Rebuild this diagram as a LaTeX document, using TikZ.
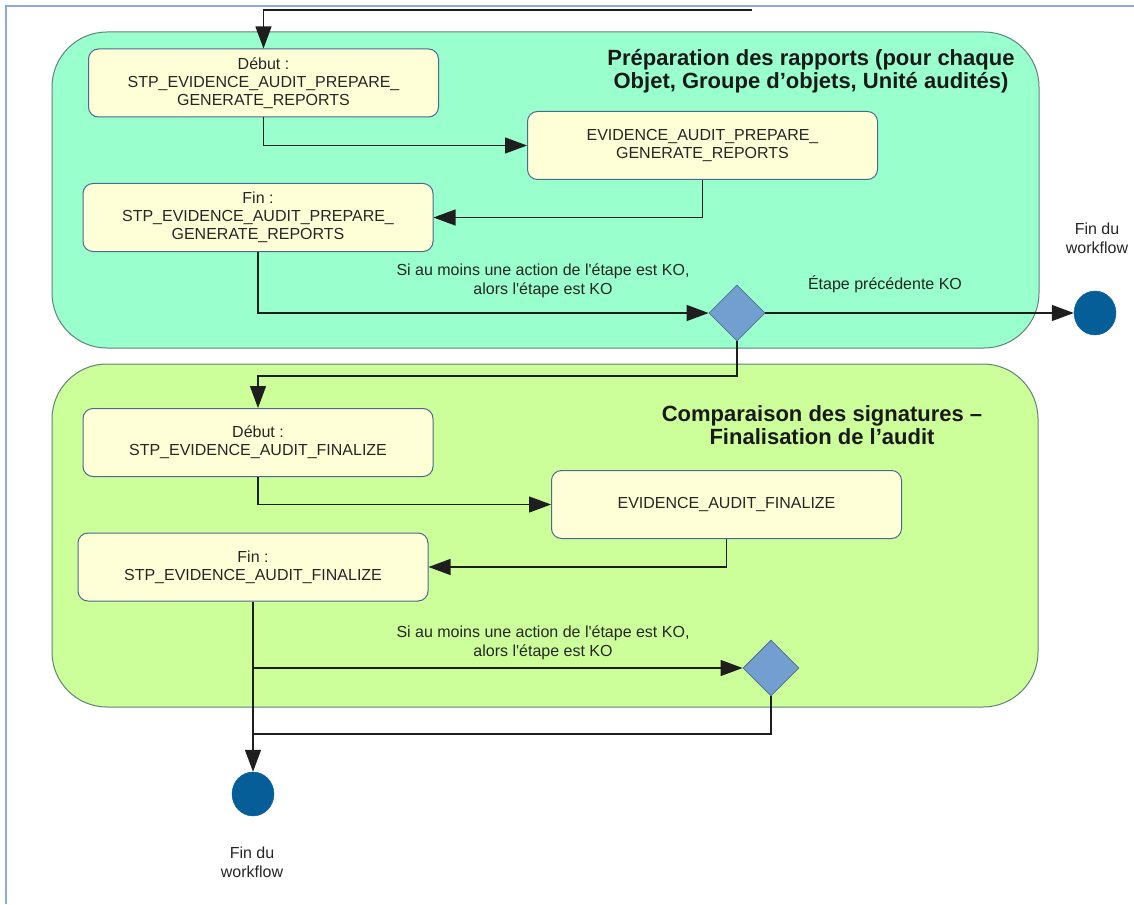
\documentclass[tikz,border=0pt]{standalone}
\usepackage{fontspec}
\setmainfont{Liberation Sans}
\usepackage{tikz}
\usetikzlibrary{arrows.meta,shapes.geometric,positioning}
\definecolor{menthe}{RGB}{153,255,204}
\definecolor{citron}{RGB}{204,255,153}
\definecolor{creme}{RGB}{255,255,215}
\definecolor{losange}{RGB}{114,159,207}
\definecolor{finbleu}{RGB}{6,94,152}
\definecolor{cadre}{RGB}{140,170,220}
\definecolor{bord}{RGB}{95,130,120}
\definecolor{trait}{RGB}{30,30,30}

\begin{document}
\begin{tikzpicture}[x=1pt,y=-1pt,>={Triangle[length=22pt,width=16pt]},
			zone/.style={rectangle,draw=bord,line width=1pt,rounded corners=55pt},
			etape/.style={rectangle,draw=bord!80!blue,fill=creme,line width=1pt,rounded corners=10pt,
				minimum width=350pt,minimum height=68pt,align=center,text=black!85,
				font=\fontsize{16}{18}\selectfont},
			titre/.style={align=center,text=black!90,font=\bfseries\fontsize{22}{23}\selectfont},
			lbl/.style={align=center,text=black!85,font=\fontsize{16}{19}\selectfont},
			choix/.style={diamond,draw=losange!70!black,fill=losange,line width=0.8pt,
				minimum width=56pt,minimum height=56pt,inner sep=0pt},
			fin/.style={ellipse,draw=finbleu,fill=finbleu,minimum width=42pt,minimum height=44pt,inner sep=0pt},
			lien/.style={draw=trait,line width=1.3pt}]
			
			\useasboundingbox (0,0) rectangle (1134,904);
			\draw[cadre,line width=1.2pt] (1134,6) -- (6,6) -- (6,904);
			
			\node[zone,fill=menthe,minimum width=987pt,minimum height=316pt] (Z1) at (545.5,190) {};
			\node[zone,fill=citron,minimum width=986pt,minimum height=343pt] (Z2) at (545,535.5) {};
			
			\node[titre] (T1) at (811,71.5) {Préparation des rapports (pour chaque\\Objet, Groupe d’objets, Unité audités)};
			\node[titre] (T2) at (822,425.5) {Comparaison des signatures –\\Finalisation de l’audit};
			
			\coordinate (S0) at (752,10);
			\node[etape] (B1) at (263.5,83) {Début :\\STP\_EVIDENCE\_AUDIT\_PREPARE\_\\GENERATE\_REPORTS};
			\node[etape] (B2) at (702.5,145.5) {EVIDENCE\_AUDIT\_PREPARE\_\\GENERATE\_REPORTS};
			\node[etape] (B3) at (258,217.5) {Fin :\\STP\_EVIDENCE\_AUDIT\_PREPARE\_\\GENERATE\_REPORTS};
			\node[choix] (D1) at (737,313) {};
			\node[fin] (E1) at (1095,313) {};
			\node[lbl] (L1) at (543,281) {Si au moins une action de l\textquotesingle étape est KO,\\alors l\textquotesingle étape est KO};
			\node[lbl] (L2) at (885,284) {Étape précédente KO};
			\node[lbl] (L3) at (1097,238) {Fin du\\workflow};
			
			\coordinate (J1) at (258,376);
			\node[etape] (B4) at (258,442.5) {Début :\\STP\_EVIDENCE\_AUDIT\_FINALIZE};
			\node[etape] (B5) at (726.5,504.5) {EVIDENCE\_AUDIT\_FINALIZE};
			\node[etape] (B6) at (253,567) {Fin :\\STP\_EVIDENCE\_AUDIT\_FINALIZE};
			\node[choix] (D2) at (771,668) {};
			\coordinate (J2) at (253,734);
			\node[fin] (E2) at (253,794) {};
			\node[lbl] (L4) at (543,643) {Si au moins une action de l\textquotesingle étape est KO,\\alors l\textquotesingle étape est KO};
			\node[lbl] (L5) at (252,862) {Fin du\\workflow};
			
			\draw[lien,->] (S0) -| (B1);
			\draw[lien,->] (B1) |- (B2);
			\draw[lien,->] (B2) |- (B3);
			\draw[lien,->] (B3) |- (D1);
			\draw[lien,->] (D1) -- (E1);
			\draw[lien,->] (D1) |- (J1) -- (B4);
			\draw[lien,->] (B4) |- (B5);
			\draw[lien,->] (B5) |- (B6);
			\draw[lien,->] (B6) |- (D2);
			\draw[lien,->] (B6) -- (E2);
			\draw[lien] (D2) |- (J2);
\end{tikzpicture}
\end{document}
